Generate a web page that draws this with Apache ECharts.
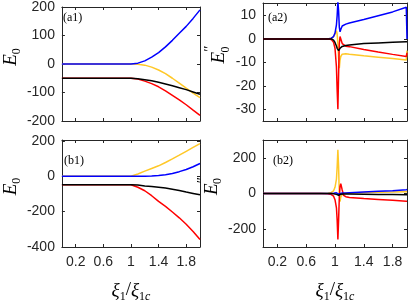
<!DOCTYPE html>
<html><head><meta charset="utf-8">
<script src="https://cdn.jsdelivr.net/npm/echarts@6/dist/echarts.min.js"></script>
<style>html,body{margin:0;padding:0;background:#fff}#c{width:409px;height:304px}</style>
</head><body><div id="c"></div>
<script>
// ---- data ----
const xSmooth = [0, 0.2, 0.4, 0.6, 0.8, 1.0, 1.1, 1.2, 1.3, 1.4, 1.5, 1.6, 1.7, 1.8, 1.9, 2.0];
const a1Blue   = [0, 0, 0, 0, 0, 0, 3, 11, 24, 40, 60, 83, 108, 132, 160, 190];
const a1Yellow = [0, 0, 0, 0, 0, 0, -1, -4, -11, -21, -34, -50, -67, -85, -102, -118];
const a1Black  = [-50, -50, -50, -50, -50, -50, -52, -55, -59, -64, -70, -76, -83, -90, -98, -106];
const a1Red    = [-50, -50, -50, -50, -50, -50, -53, -60, -69, -80, -94, -110, -126, -143, -162, -180];

const b1Blue   = [0, 0, 0, 0, 0, 0, 0, 0, 1, 4, 9, 16, 26, 38, 54, 72];
const b1Yellow = [0, 0, 0, 0, 0, 0, 13, 29, 44, 59, 78, 98, 119, 141, 163, 185];
const b1Black  = [-48, -48, -48, -48, -48, -48, -50, -55, -58, -62, -67, -73, -80, -89, -97, -105];
const b1Red    = [-48, -48, -48, -48, -48, -48, -62, -82, -110, -142, -170, -202, -235, -271, -312, -358];

const xSpike = [0, 0.5, 0.8, 0.9, 0.95, 0.98, 1.0, 1.02, 1.03, 1.04, 1.05, 1.06, 1.07, 1.08, 1.1, 1.12, 1.15, 1.2, 1.4, 1.6, 1.8, 1.99, 2.0];
const a2Blue   = [0, 0, 0, 0, 0.3, 1, 2.5, 6, 10, 16, 12, 5, 3, 4, 5.5, 6, 6.3, 6.8, 8.3, 9.9, 11.5, 13.5, 0];
const a2Yellow = [0, 0, 0, 0, 0.3, 1, 2, 3.5, 2, -2, -8, -12.5, -9, -7.5, -6.5, -6.3, -6.3, -6.5, -7.2, -7.8, -8.4, -9, -5];
const a2Red    = [0, 0, 0, 0, -0.3, -1.5, -4, -12, -22, -30, -15, -2, 1, 0.5, -2, -2.8, -3.1, -3.3, -4.5, -5.6, -6.6, -7.5, -6];
const a2Black  = [0, 0, 0, 0, 0, -0.5, -1.5, -3, -4, -4.8, -5, -4.5, -4, -3.6, -3.2, -3, -2.8, -2.6, -2, -1.7, -1.4, -1.2, -1.2];

const b2Blue   = [0, 0, 0, 0, 0.5, 1, 2, 4, 5, -3, -4, 0, 1, 1, 2, 2.5, 3, 4, 8, 12, 16, 21, 22];
const b2Yellow = [0, 0, 0.5, 2, 6, 15, 35, 80, 150, 245, 150, -10, -45, -20, -5, 0, 2, 3, 5, 7, 8.5, 10, 10];
const b2Red    = [0, 0, -0.5, -2, -6, -15, -35, -80, -150, -258, -150, -20, 40, 55, 20, -10, -18, -22, -28, -33, -38, -43, -43];
const b2Black  = [0, 0, 0, 0, 0, -1, -2, -5, -8, -10, -10, -7, -5, -4, -3, -3, -3, -3, -4, -5, -6, -7, -7];

const xTicks = [0.2, 0.6, 1, 1.4, 1.8];
const yTicksA1 = [-200, -100, 0, 100, 200];
const yTicksA2 = [-30, -20, -10, 0, 10];
const yTicksB1 = [-400, -200, 0, 200];
const yTicksB2 = [-200, 0, 200];
const panelLabels = ['(a1)', '(a2)', '(b1)', '(b2)'];

const C = {blue: '#0000ff', yellow: '#ffc828', red: '#ff0000', black: '#000000'};
const AX = '#262626';

const grids = [
  {left: 56, top: 3, width: 144, height: 118},
  {left: 263, top: 3, width: 144, height: 118},
  {left: 56, top: 140, width: 144, height: 118},
  {left: 263, top: 140, width: 144, height: 118}
];
const yCfg = [
  {min: -200, max: 200, ticks: yTicksA1, name: '{e|E}{s|0}'},
  {min: -35, max: 15.3, ticks: yTicksA2, name: '{e|E}{p|″}{t|0}'},
  {min: -400, max: 205, ticks: yTicksB1, name: '{e|E}{s|0}'},
  {min: -300, max: 300, ticks: yTicksB2, name: '{e|E}{p|″}{t|0}'}
];
const serif = 'Liberation Serif';
const nameRich = {
  e: {fontFamily: serif, fontStyle: 'italic', fontSize: 19, color: '#000', lineHeight: 24, verticalAlign: 'bottom'},
  s: {fontFamily: serif, fontSize: 12, color: '#000', lineHeight: 12, verticalAlign: 'bottom', padding: [0, 0, -3, 0]},
  t: {fontFamily: serif, fontSize: 12, color: '#000', lineHeight: 12, verticalAlign: 'bottom', padding: [0, 0, -3, -7]},
  p: {fontFamily: serif, fontSize: 15, color: '#000', lineHeight: 24, verticalAlign: 'top', padding: [-2, 0, 0, 0]},
  x: {fontFamily: serif, fontStyle: 'italic', fontSize: 19, color: '#000', lineHeight: 24, verticalAlign: 'bottom'},
  sl: {fontFamily: serif, fontSize: 19, color: '#000', lineHeight: 24, verticalAlign: 'bottom'},
  c: {fontFamily: serif, fontStyle: 'italic', fontSize: 12, color: '#000', lineHeight: 12, verticalAlign: 'bottom', padding: [0, 0, -3, 0]}
};

const xAxis = [], yAxis = [], series = [];
grids.forEach((g, i) => {
  const bottomRow = i >= 2;
  xAxis.push({
    type: 'value', gridIndex: i, min: 0, max: 2, position: 'bottom',
    axisLine: {show: true, onZero: false, lineStyle: {color: AX, width: 1}},
    axisTick: {show: true, inside: true, length: 3, customValues: xTicks, lineStyle: {color: AX}},
    axisLabel: {show: bottomRow, customValues: xTicks, fontFamily: 'Liberation Sans', fontSize: 14, color: AX, margin: 8,
      formatter: v => String(v)},
    splitLine: {show: false},
    name: bottomRow ? '{x|ξ}{s|1}{sl|/}{x|ξ}{s|1}{c|c}' : '',
    nameLocation: 'middle', nameGap: 29,
    nameTextStyle: {rich: nameRich, padding: [0, 0, 0, 0]}
  });
  xAxis.push({
    type: 'value', gridIndex: i, min: 0, max: 2, position: 'top',
    axisLine: {show: true, onZero: false, lineStyle: {color: AX, width: 1}},
    axisTick: {show: true, inside: true, length: 3, customValues: xTicks, lineStyle: {color: AX}},
    axisLabel: {show: false}, splitLine: {show: false}
  });
  const y = yCfg[i];
  yAxis.push({
    type: 'value', gridIndex: i, min: y.min, max: y.max, position: 'left',
    axisLine: {show: true, onZero: false, lineStyle: {color: AX, width: 1}},
    axisTick: {show: true, inside: true, length: 3, customValues: y.ticks, lineStyle: {color: AX}},
    axisLabel: {show: true, customValues: y.ticks, fontFamily: 'Liberation Sans', fontSize: 14, color: AX, margin: 7},
    splitLine: {show: false},
    name: y.name, nameLocation: 'middle', nameGap: 33, nameRotate: 90,
    nameTextStyle: {rich: nameRich, padding: [0, 0, 0, 14]}
  });
  yAxis.push({
    type: 'value', gridIndex: i, min: y.min, max: y.max, position: 'right',
    axisLine: {show: true, onZero: false, lineStyle: {color: AX, width: 1}},
    axisTick: {show: true, inside: true, length: 3, customValues: y.ticks, lineStyle: {color: AX}},
    axisLabel: {show: false}, splitLine: {show: false}
  });
});

function addSeries(i, xs, ys, color) {
  series.push({
    type: 'line', xAxisIndex: 2 * i, yAxisIndex: 2 * i, showSymbol: false, symbol: 'none',
    clip: true, animation: false,
    lineStyle: {color: color, width: 1.5},
    data: xs.map((x, k) => [x, ys[k]])
  });
}
addSeries(0, xSmooth, a1Yellow, C.yellow);
addSeries(0, xSmooth, a1Blue, C.blue);
addSeries(0, xSmooth, a1Red, C.red);
addSeries(0, xSmooth, a1Black, C.black);
addSeries(1, xSpike, a2Yellow, C.yellow);
addSeries(1, xSpike, a2Blue, C.blue);
addSeries(1, xSpike, a2Red, C.red);
addSeries(1, xSpike, a2Black, C.black);
addSeries(2, xSmooth, b1Yellow, C.yellow);
addSeries(2, xSmooth, b1Blue, C.blue);
addSeries(2, xSmooth, b1Red, C.red);
addSeries(2, xSmooth, b1Black, C.black);
addSeries(3, xSpike, b2Yellow, C.yellow);
addSeries(3, xSpike, b2Red, C.red);
addSeries(3, xSpike, b2Blue, C.blue);
addSeries(3, xSpike, b2Black, C.black);

const labelPos = [[63, 12], [268, 12], [64, 155], [273, 155]];
const graphic = panelLabels.map((t, i) => ({
  type: 'text', left: labelPos[i][0], top: labelPos[i][1],
  style: {text: t, fontFamily: serif, fontSize: 12, fill: '#000'}
}));

const chart = echarts.init(document.getElementById('c'), null, {renderer: 'canvas'});
chart.setOption({animation: false, grid: grids, xAxis, yAxis, series, graphic});
</script>
</body></html>
